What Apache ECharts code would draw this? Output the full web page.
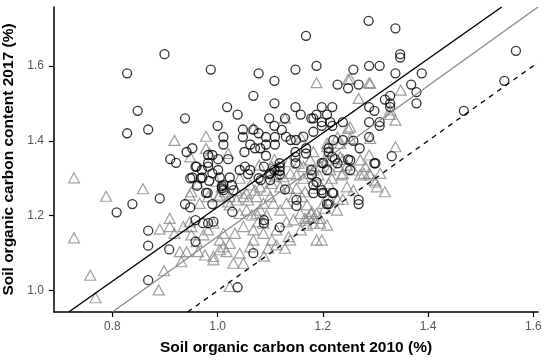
<!DOCTYPE html>
<html><head><meta charset="utf-8">
<script src="https://cdn.jsdelivr.net/npm/echarts@6/dist/echarts.min.js"></script>
<style>html,body{margin:0;padding:0;background:#fff}#c{width:550px;height:362px}</style>
</head><body><div id="c"></div>
<script>
const xTicks = [0.8, 1.0, 1.2, 1.4, 1.6];
const yTicks = [1.0, 1.2, 1.4, 1.6];
const xTitle = 'Soil organic carbon content 2010 (%)';
const yTitle = 'Soil organic carbon content 2017 (%)';

const circles = [
[1.287,1.72],[1.338,1.70],[1.168,1.68],[0.899,1.631],[1.347,1.631],[1.347,1.622],[1.567,1.64],
[0.828,1.58],[0.987,1.59],[1.078,1.58],[1.148,1.59],[1.188,1.60],[1.258,1.59],[1.288,1.60],[1.308,1.60],[1.338,1.58],[1.388,1.58],
[1.108,1.56],[1.228,1.55],[1.248,1.54],[1.268,1.55],[1.368,1.55],[1.378,1.53],[1.378,1.50],[1.545,1.56],[1.068,1.52],
[0.848,1.48],[1.468,1.48],[1.318,1.51],[1.328,1.52],[1.328,1.50],[1.328,1.49],[1.108,1.50],[1.018,1.49],[1.148,1.49],[1.198,1.49],[1.218,1.49],[1.288,1.49],[1.298,1.48],
[1.038,1.47],[1.158,1.47],[1.188,1.47],[1.208,1.47],
[0.828,1.42],[0.868,1.43],[0.938,1.46],[1.098,1.46],[1.128,1.46],[1.178,1.46],[1.238,1.45],[1.198,1.45],[1.198,1.44],[1.218,1.44],[1.288,1.45],[1.308,1.45],[1.308,1.44],[1.000,1.44],
[1.048,1.43],[1.048,1.41],[1.068,1.43],[1.078,1.42],[1.108,1.44],[1.011,1.41],[1.011,1.39],[1.092,1.41],[1.092,1.39],[1.062,1.39],[1.071,1.38],[1.081,1.38],[1.051,1.37],[1.092,1.36],[1.109,1.41],[1.109,1.39],
[0.941,1.37],[0.952,1.38],[0.910,1.351],[0.921,1.341],[0.982,1.362],[0.990,1.362],[0.982,1.341],[0.982,1.331],[1.001,1.351],[1.020,1.351],[0.960,1.331],[0.970,1.322],[1.001,1.322],[0.952,1.302],[0.971,1.302],[0.990,1.313],[0.984,1.293],[1.004,1.302],[1.042,1.322],[1.062,1.322],[1.052,1.331],[1.023,1.302],[1.011,1.282],[1.011,1.268],[0.961,1.28],[0.981,1.261],[1.027,1.282],[1.030,1.268],[0.890,1.246],[1.082,1.295],[1.100,1.313],[1.100,1.295],
[1.122,1.429],[1.139,1.402],[1.149,1.402],[1.163,1.411],[1.130,1.411],[1.182,1.424],[1.220,1.402],[1.238,1.402],[1.270,1.38],[1.211,1.38],[1.211,1.37],[1.252,1.348],[1.223,1.351],[1.201,1.34],[1.252,1.322],[1.300,1.34],[1.331,1.359],[1.182,1.282],[1.198,1.268],[1.179,1.309],[1.182,1.46],[1.214,1.45],
[1.118,1.34],[1.118,1.33],[1.118,1.32],[1.118,1.31],[1.148,1.37],[1.148,1.357],[1.148,1.34],[1.168,1.38],[1.168,1.366],[1.288,1.41],[1.298,1.34],[1.258,1.40],
[1.268,1.242],[1.268,1.231],[1.208,1.231],[1.218,1.261],[1.198,1.261],[1.188,1.29],[1.150,1.242],[1.150,1.226],[1.118,1.169],[1.088,1.188],[1.088,1.18],[1.068,1.10],[1.038,1.009],[0.868,1.028],[0.868,1.12],[0.868,1.16],[0.908,1.11],[0.958,1.131],[0.808,1.209],[0.838,1.231],[0.938,1.231],[0.948,1.222],[0.958,1.188],[0.972,1.18],[0.982,1.18],[0.992,1.184],[1.028,1.21],[1.008,1.279],[1.008,1.273],[0.990,1.231],[0.978,1.261],[0.948,1.30],[0.968,1.30],[0.958,1.331],[1.058,1.311],[1.078,1.30],[1.088,1.331],[1.098,1.311],[1.108,1.322],[1.128,1.27],[1.208,1.322],[1.198,1.341],[1.228,1.34],[1.218,1.357],[1.248,1.35],[1.178,1.322],[1.182,1.26],[1.201,1.26],[1.220,1.26],[1.211,1.231]
];

const triangles = [
[0.727,1.301],[0.727,1.141],[0.788,1.252],[0.858,1.272],[0.758,1.041],[0.768,0.981],[0.888,1.002],[0.898,1.053],
[0.918,1.401],[0.978,1.412],[1.188,1.555],[1.248,1.564],[1.288,1.555],[1.268,1.513],[1.348,1.535],[1.328,1.482],[1.328,1.47],[1.338,1.455],[1.338,1.384],[1.248,1.433],[1.288,1.362],[1.288,1.313],[1.298,1.295],[1.318,1.264],[1.238,1.244],[1.188,1.206],[1.188,1.135],[1.198,1.135],[1.208,1.175],[1.128,1.113],[1.068,1.433],[1.128,1.46],
[0.948,1.357],[0.978,1.38],[0.985,1.366],[1.020,1.366],[1.079,1.335],[1.108,1.35],[1.238,1.35],[1.228,1.41],[1.208,1.384],[1.158,1.41],
[0.950,1.264],[1.008,1.277],[1.014,1.264],[1.023,1.251],[1.042,1.30],[1.062,1.282],[1.071,1.268],[1.081,1.277],[1.093,1.268],[1.103,1.286],[1.109,1.304],[1.112,1.322],[1.055,1.26],[1.036,1.268],[1.001,1.251],
[1.103,1.331],[1.112,1.309],[1.125,1.304],[1.138,1.313],[1.150,1.309],[1.163,1.30],[1.173,1.313],[1.119,1.277],[1.135,1.273],[1.150,1.273],[1.166,1.264],[1.182,1.273],[1.195,1.282],
[1.208,1.393],[1.211,1.371],[1.208,1.349],[1.214,1.322],[1.217,1.30],[1.211,1.286],[1.233,1.393],[1.233,1.357],[1.230,1.331],[1.236,1.309],[1.246,1.277],[1.258,1.268],[1.176,1.349],[1.182,1.322],[1.192,1.309],[1.195,1.331],[1.182,1.371],[1.135,1.344],[1.154,1.34],[1.163,1.331],[1.271,1.349],[1.281,1.331],[1.290,1.309],[1.303,1.277],[1.252,1.566],[1.290,1.553],[1.252,1.437],[1.252,1.406],[1.290,1.406],[1.309,1.313],[1.300,1.29],[1.246,1.335],[1.258,1.322],[1.271,1.309],
[0.890,1.164],[0.909,1.193],[0.909,1.171],[0.918,1.153],[0.928,1.104],[0.941,1.104],[0.931,1.077],[0.950,1.149],[0.950,1.171],[0.963,1.104],[0.976,1.095],[0.992,1.091],[0.992,1.082],[0.960,1.131],[0.973,1.149],[0.982,1.162],[0.992,1.18],[1.004,1.109],[1.011,1.117],[1.017,1.104],[1.023,1.126],[1.004,1.135],[1.011,1.153],[1.030,1.073],[1.049,1.073],[1.023,1.011],[1.042,1.10],[1.062,1.117],[1.033,1.153],[1.049,1.171],[1.068,1.162],[1.077,1.184],[1.087,1.18],[1.042,1.206],[1.055,1.215],[1.065,1.202],[1.074,1.206],[1.081,1.215],[1.093,1.202],[1.023,1.229],[1.036,1.242],[1.049,1.251],[1.068,1.135],[1.087,1.153],[1.103,1.135],[1.112,1.162],[1.096,1.113],[1.112,1.122],[1.131,1.184],[1.144,1.189],[1.157,1.206],[1.170,1.175],[1.173,1.197],[1.119,1.215],[1.131,1.233],[1.144,1.251],[1.106,1.233],[1.182,1.193],[1.195,1.193],[1.204,1.22],[1.214,1.242],
[0.947,1.255],[0.966,1.233],[0.982,1.251],[1.004,1.255],[1.020,1.237],[1.058,1.242],[1.074,1.251],[1.087,1.233],[1.100,1.251],[1.160,1.251],[1.170,1.229],[1.179,1.211],[1.201,1.233],[1.227,1.215],[1.166,1.193],[1.135,1.144],[1.182,1.18],[1.195,1.18],
[0.935,1.171],[0.947,1.184],[1.088,1.092],[1.138,1.135],[1.158,1.162],[1.168,1.188],[1.178,1.206],[1.228,1.244],[1.278,1.313],[1.238,1.313],[0.962,1.286],[0.998,1.292]
];

const fitCircles = [[0.717,0.943],[1.540,1.757]];
const fitTriangles = [[0.800,0.943],[1.609,1.757]];
const oneToOne = [[0.943,0.943],[1.609,1.609]];

const FONT = '"Liberation Sans", Arial, sans-serif';
const chart = echarts.init(document.getElementById('c'), null, {renderer:'canvas'});
chart.setOption({
  animation: false,
  backgroundColor: '#fff',
  grid: {left: 54, right: 12, top: 7, bottom: 50, containLabel: false, outerBoundsMode: 'none'},
  xAxis: {
    type: 'value', min: 0.689, max: 1.609,
    name: xTitle, nameLocation: 'middle', nameGap: 28,
    nameTextStyle: {fontFamily: FONT, fontWeight: 'bold', fontSize: 15.5, color: '#000'},
    axisLine: {show: true, onZero: false, lineStyle: {color: '#000', width: 1.5}},
    axisTick: {show: true, length: 5, customValues: xTicks, lineStyle: {color: '#000', width: 1.2}},
    axisLabel: {customValues: xTicks, margin: 9, fontFamily: FONT, fontSize: 12, color: '#555',
      formatter: v => v.toFixed(1)},
    splitLine: {show: false}
  },
  yAxis: {
    type: 'value', min: 0.943, max: 1.757,
    name: yTitle, nameLocation: 'middle', nameGap: 35,
    nameTextStyle: {fontFamily: FONT, fontWeight: 'bold', fontSize: 15.5, color: '#000'},
    axisLine: {show: true, onZero: false, lineStyle: {color: '#000', width: 1.5}},
    axisTick: {show: true, length: 5, customValues: yTicks, lineStyle: {color: '#000', width: 1.2}},
    axisLabel: {customValues: yTicks, margin: 10, fontFamily: FONT, fontSize: 12, color: '#555',
      formatter: v => v.toFixed(1)},
    splitLine: {show: false}
  },
  series: [
    {type: 'scatter', data: triangles, symbol: 'triangle', symbolSize: [11, 10],
      itemStyle: {color: 'rgba(0,0,0,0)', borderColor: '#8a8a8a', borderWidth: 1.2}, z: 2},
    {type: 'scatter', data: circles, symbol: 'circle', symbolSize: 9,
      itemStyle: {color: 'rgba(0,0,0,0)', borderColor: '#000', borderWidth: 1.3}, z: 3},
    {type: 'line', data: fitCircles, symbol: 'none', lineStyle: {color: '#000', width: 1.5}, z: 4},
    {type: 'line', data: fitTriangles, symbol: 'none', lineStyle: {color: '#8a8a8a', width: 1.3}, z: 4},
    {type: 'line', data: oneToOne, symbol: 'none', lineStyle: {color: '#000', width: 1.3, type: [5, 5]}, z: 4}
  ]
});
</script></body></html>
